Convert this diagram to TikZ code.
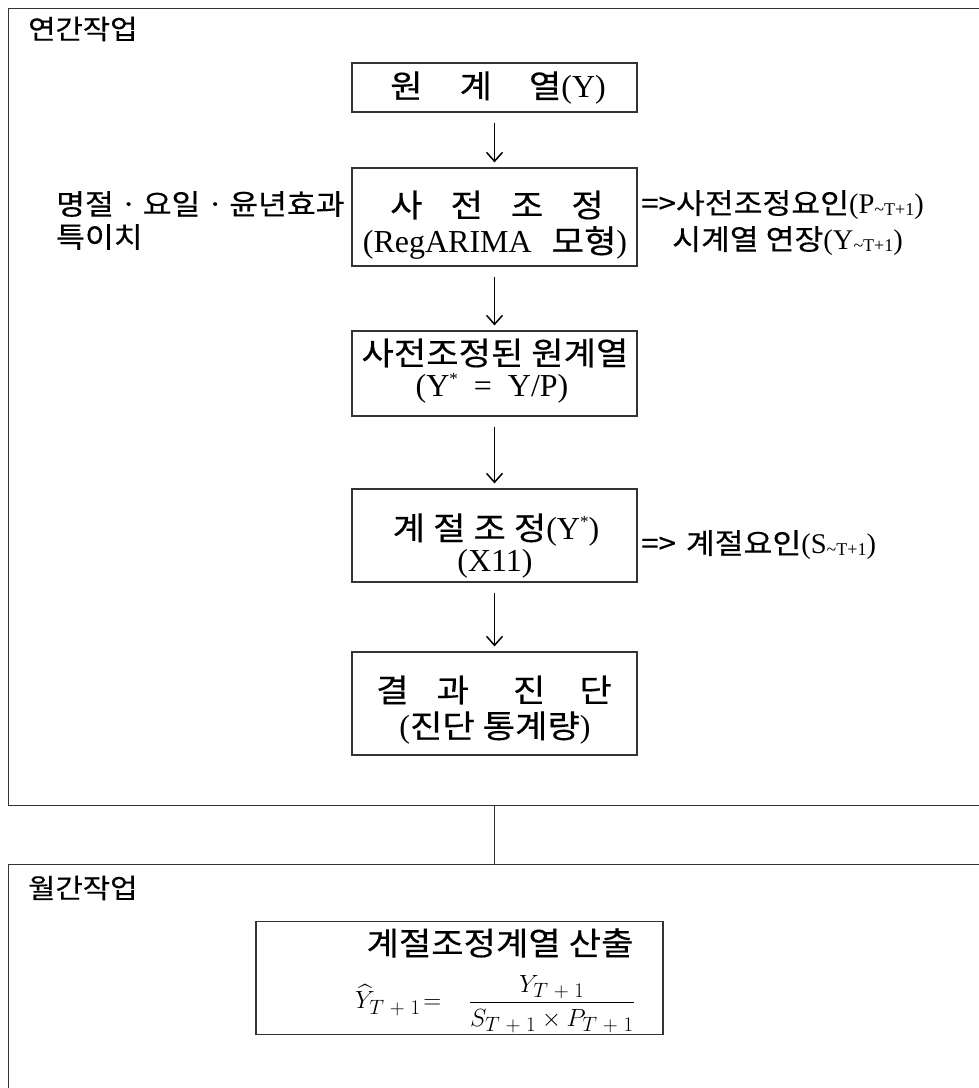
\documentclass[tikz,border=0pt]{standalone}
\usepackage{fontspec}
\usepackage{amsmath}
\setmainfont{Liberation Serif}
\newfontfamily\kr{Noto Sans CJK KR}[FakeStretch=1.1, FakeBold=0.4]
\usetikzlibrary{arrows.meta}
\newcommand{\bx}{\fontsize{32}{38}\selectfont}
\newcommand{\sidefont}{\fontsize{28.5}{34}\selectfont}
\newcommand{\ttl}{\fontsize{27}{30}\selectfont}
\newcommand{\subt}[1]{\raisebox{-2pt}{\fontsize{18}{18}\selectfont #1}}
\newcommand{\supst}{\raisebox{12pt}{\fontsize{17}{17}\selectfont *}}
\begin{document}
\begin{tikzpicture}[x=1pt,y=-1pt,
  frame/.style={draw=black!80, line width=1.3pt, inner sep=0pt, anchor=north west},
  stepbox/.style={draw=black!80, line width=1.2pt, minimum width=285pt, inner sep=0pt},
  txt/.style={inner sep=0pt, font=\bx},
  flow/.style={-{Straight Barb[length=9pt,width=16pt,line width=1.5pt]}, line width=1.5pt, shorten <=10pt, shorten >=5pt},
  link/.style={draw=black!80, line width=1.2pt},
  lbl/.style={inner sep=0pt, anchor=west, font=\sidefont},
  title/.style={inner sep=0pt, anchor=west, font=\ttl}]
\useasboundingbox (0,0) rectangle (979,1088);
\clip (0,0) rectangle (979,1088);
\fill[white] (0,0) rectangle (979,1088);
\node[frame, minimum width=1000pt, minimum height=797pt] (f1) at (7.5,8) {};
\node[frame, minimum width=1000pt, minimum height=300pt] (f2) at (7.5,864) {};
\node[title] (t1) at (28,29) {\kr 연간작업};
\node[title] (t2) at (28,888) {\kr 월간작업};

% boxes
\node[stepbox, minimum height=49pt] (b1) at (494.5,87.5) {};
\node[stepbox, minimum height=98pt] (b2) at (494.5,217) {};
\node[stepbox, minimum height=85pt] (b3) at (494.5,373.5) {};
\node[stepbox, minimum height=93pt] (b4) at (494.5,535.5) {};
\node[stepbox, minimum height=103pt] (b5) at (494.5,703.5) {};

% box texts
\node[txt] (b1a) at (498,88) {{\kr 원\hspace{37pt}계\hspace{37pt}열}(Y)};
\node[txt] (b2a) at (497,205) {\kr 사\hspace{28pt}전\hspace{28pt}조\hspace{28pt}정};
\node[txt] (b2b) at (495,243) {(RegARIMA\hspace{20pt}{\kr 모형})};
\node[txt] (b3a) at (495,353) {\kr 사전조정된 원계열};
\node[txt] (b3b) at (492,388) {(Y\supst{}\hspace{16pt}=\hspace{16pt}Y/P)};
\node[txt] (b4a) at (496,530) {{\kr 계\hspace{8pt}절\hspace{8pt}조\hspace{8pt}정}(Y\supst)};
\node[txt] (b4b) at (495,564) {(X11)};
\node[txt] (b5a) at (494,690) {\kr 결\hspace{28pt}과\hspace{44pt}진\hspace{34pt}단};
\node[txt] (b5b) at (495,728) {({\kr 진단 통계량})};

\draw[flow] (b1) -- (b2);
\draw[flow] (b2) -- (b3);
\draw[flow] (b3) -- (b4);
\draw[flow] (b4) -- (b5);
\draw[link] (b5.south |- f1.south) -- (b5.south |- f2.north);

\node[lbl] (l1) at (56,204) {\kr 명절ㆍ요일ㆍ윤년효과};
\node[lbl] (l2) at (56,237) {\kr 특이치};
\node[lbl] (r1) at (641,205) {{\kr =>사전조정요인}(P\subt{\string~T+1})};
\node[lbl] (r2) at (672,241) {{\kr 시계열 연장}(Y\subt{\string~T+1})};
\node[lbl] (r3) at (641,545) {{\kr =>\hspace{10pt}계절요인}(S\subt{\string~T+1})};

\node[stepbox, minimum width=407pt, minimum height=113pt] (b6) at (459.5,978) {};
\node[txt] (b6t) at (500,943) {\kr 계절조정계열 산출};
\node[inner sep=0pt, font=\fontsize{28}{32}\selectfont] (fm) at (495,1004) {$\widehat{Y}_{T\;+\;1}\!= \;\;\;\dfrac{Y_{T\;+\;1}}{S_{T\;+\;1}\times P_{T\;+\;1}}$};
\end{tikzpicture}
\end{document}
